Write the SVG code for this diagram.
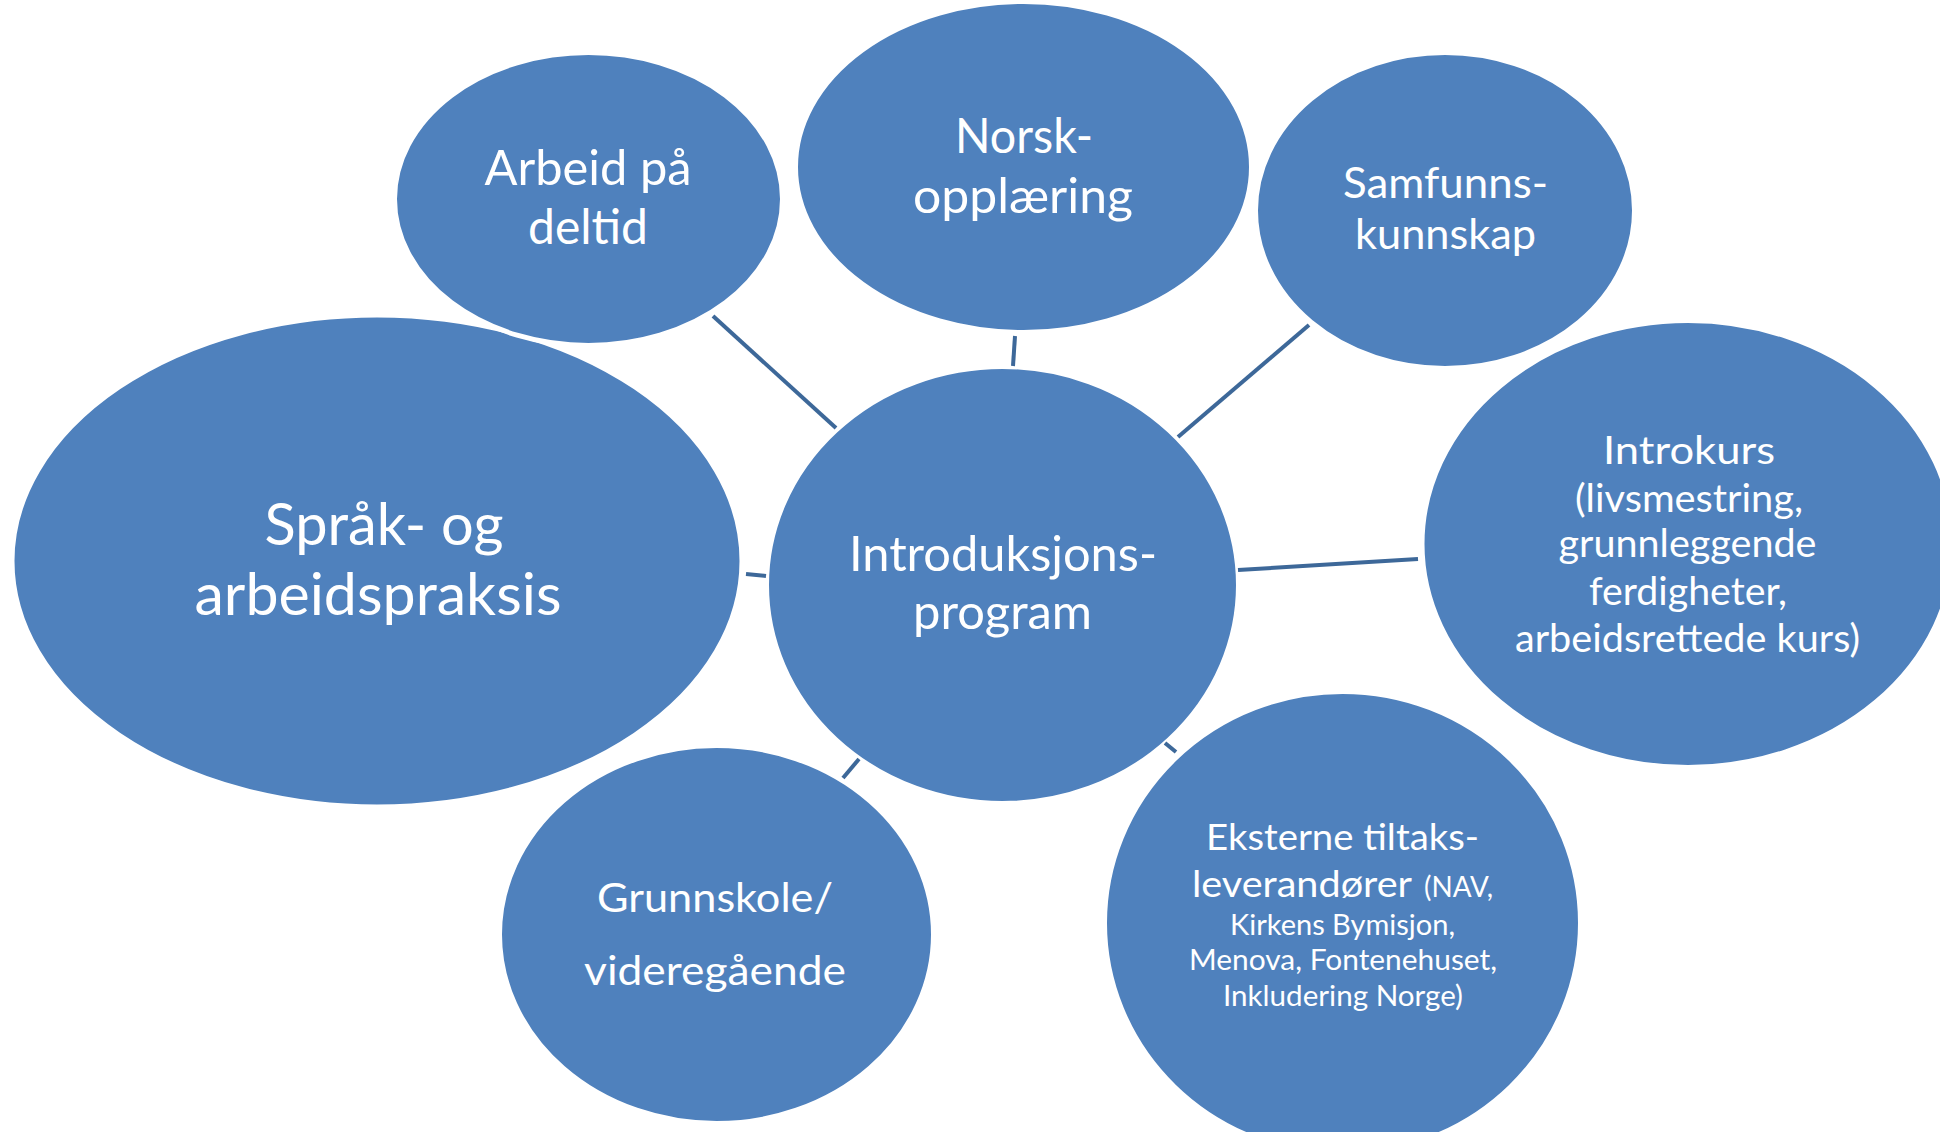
<svg xmlns="http://www.w3.org/2000/svg" width="1940" height="1132" viewBox="0 0 1940 1132">
<style>
.node{fill:#4F81BD;stroke:#FFFFFF;stroke-width:5}
.lbl{font-family:Lato,"Open Sans","Liberation Sans",sans-serif;fill:#FFFFFF;text-anchor:middle}
.conn{stroke:#3D6899;stroke-width:4;fill:none}
</style>
<rect x="0" y="0" width="1940" height="1132" fill="#FFFFFF"/>
<g id="node-sprak">
<ellipse class="node" cx="377" cy="561" rx="365" ry="246"/>
<text class="lbl" font-size="58"><tspan x="384" y="545" textLength="239" lengthAdjust="spacingAndGlyphs">Språk- og</tspan><tspan x="378" y="615" textLength="367" lengthAdjust="spacingAndGlyphs">arbeidspraksis</tspan></text>
</g>
<g id="node-arbeid">
<ellipse class="node" cx="588.5" cy="199" rx="194" ry="146.5"/>
<text class="lbl" font-size="48"><tspan x="588" y="185" textLength="207" lengthAdjust="spacingAndGlyphs">Arbeid på</tspan><tspan x="588" y="244" textLength="120" lengthAdjust="spacingAndGlyphs">deltid</tspan></text>
</g>
<g id="node-norsk">
<ellipse class="node" cx="1023.5" cy="167" rx="228" ry="165.5"/>
<text class="lbl" font-size="48"><tspan x="1024" y="153" textLength="138" lengthAdjust="spacingAndGlyphs">Norsk-</tspan><tspan x="1023" y="213" textLength="220" lengthAdjust="spacingAndGlyphs">opplæring</tspan></text>
</g>
<g id="node-samfunn">
<ellipse class="node" cx="1445" cy="210.5" rx="189.5" ry="158"/>
<text class="lbl" font-size="43"><tspan x="1445.5" y="198" textLength="205" lengthAdjust="spacingAndGlyphs">Samfunns-</tspan><tspan x="1445.5" y="249" textLength="181" lengthAdjust="spacingAndGlyphs">kunnskap</tspan></text>
</g>
<g id="node-introkurs">
<ellipse class="node" cx="1688" cy="544" rx="266" ry="223.5"/>
<text class="lbl" font-size="39"><tspan x="1689" y="464" textLength="172" lengthAdjust="spacingAndGlyphs">Introkurs</tspan><tspan x="1689" y="512" textLength="228" lengthAdjust="spacingAndGlyphs">(livsmestring,</tspan><tspan x="1687.5" y="557" textLength="258" lengthAdjust="spacingAndGlyphs">grunnleggende</tspan><tspan x="1688" y="605" textLength="198" lengthAdjust="spacingAndGlyphs">ferdigheter,</tspan><tspan x="1687.5" y="652" textLength="345" lengthAdjust="spacingAndGlyphs">arbeidsrettede kurs)</tspan></text>
</g>
<g id="node-grunnskole">
<ellipse class="node" cx="716.5" cy="934.5" rx="217" ry="189"/>
<text class="lbl" font-size="41"><tspan x="715" y="912" textLength="236" lengthAdjust="spacingAndGlyphs">Grunnskole/</tspan><tspan x="715" y="985" textLength="262" lengthAdjust="spacingAndGlyphs">videregående</tspan></text>
</g>
<g id="node-eksterne">
<ellipse class="node" cx="1342.5" cy="923" rx="238" ry="231.5"/>
<text class="lbl" font-size="37"><tspan x="1342.5" y="850" textLength="273" lengthAdjust="spacingAndGlyphs">Eksterne tiltaks-</tspan></text>
<text class="lbl" font-size="37" text-anchor="start" style="text-anchor:start"><tspan x="1192" y="897" textLength="220" lengthAdjust="spacingAndGlyphs">leverandører</tspan><tspan x="1424" y="897" font-size="28" textLength="69" lengthAdjust="spacingAndGlyphs">(NAV,</tspan></text>
<text class="lbl" font-size="28"><tspan x="1342.5" y="935" textLength="225" lengthAdjust="spacingAndGlyphs">Kirkens Bymisjon,</tspan><tspan x="1343" y="970" textLength="308" lengthAdjust="spacingAndGlyphs">Menova, Fontenehuset,</tspan><tspan x="1343" y="1006" textLength="240" lengthAdjust="spacingAndGlyphs">Inkludering Norge)</tspan></text>
</g>
<g id="node-central">
<ellipse class="node" cx="1002.5" cy="585" rx="236" ry="218.5"/>
<text class="lbl" font-size="48"><tspan x="1003" y="571" textLength="308" lengthAdjust="spacingAndGlyphs">Introduksjons-</tspan><tspan x="1002.5" y="629" textLength="179" lengthAdjust="spacingAndGlyphs">program</tspan></text>
</g>
<g id="connectors">
<line class="conn" x1="713" y1="316" x2="836" y2="428"/>
<line class="conn" x1="1015" y1="336" x2="1013" y2="366"/>
<line class="conn" x1="1309" y1="325" x2="1178" y2="437"/>
<line class="conn" x1="746" y1="574" x2="766" y2="576"/>
<line class="conn" x1="1238" y1="570" x2="1418" y2="559"/>
<line class="conn" x1="843" y1="778" x2="859" y2="759"/>
<line class="conn" x1="1165" y1="743" x2="1176" y2="752"/>
</g>
</svg>
